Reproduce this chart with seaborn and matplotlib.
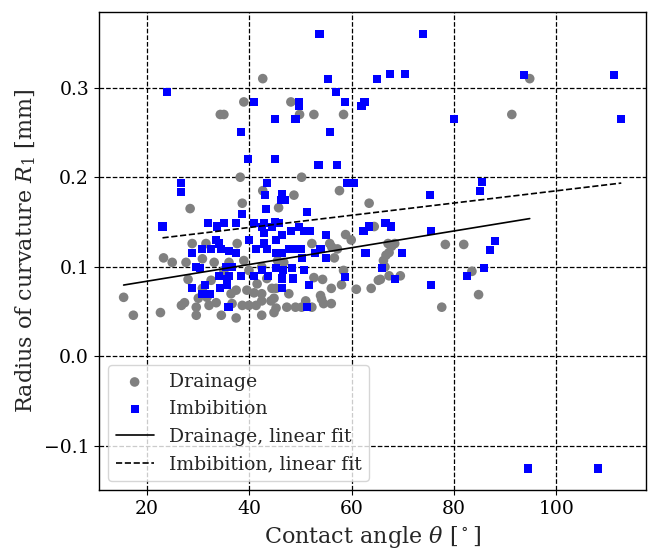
import numpy as np
import pandas as pd
import matplotlib
matplotlib.use("Agg")
import matplotlib.pyplot as plt
import seaborn as sns

# Drainage data (contact angle [deg], radius of curvature [mm])
drain_theta = [42.6, 38.9, 34.3, 35.0, 48.1, 49.8, 52.6, 58.4, 94.8, 91.3,
               38.2, 50.2, 28.4, 38.6, 42.6, 45.7, 48.7, 57.6, 63.4, 64.4,
               78.3, 81.9, 83.5, 84.8, 77.6,
               67.1, 67.8, 68.4, 67.3, 66.7, 66.2, 66.5, 67.3, 69.5, 65.6, 63.8, 65.2,
               58.8, 59.9, 52.2, 55.7, 56.1, 57.2, 56.6, 58.4, 52.6, 54.3, 58.0, 56.0,
               60.9, 53.9, 54.1, 56.0, 51.0, 45.5, 47.3, 49.0, 50.2, 52.2, 54.5,
               44.8, 44.8, 45.2, 47.7,
               37.6, 42.4, 37.4, 39.5, 40.9, 42.4, 44.4, 38.6, 39.9, 41.3, 42.4,
               44.2, 45.2, 37.4, 42.4,
               28.8, 31.5, 23.2, 24.9, 27.6, 36.0, 28.0, 30.8, 36.4, 22.6, 26.7,
               27.3, 29.6, 29.6, 32.1, 33.5, 34.5, 30.0, 31.7, 36.6, 15.4, 17.3,
               30.8, 33.1, 35.0, 32.5, 38.9, 39.9, 41.5, 43.4, 46.7]
drain_r1 = [0.310, 0.284, 0.270, 0.270, 0.284, 0.270, 0.270, 0.270, 0.310, 0.270,
            0.200, 0.200, 0.165, 0.171, 0.185, 0.166, 0.180, 0.185, 0.171, 0.145,
            0.125, 0.125, 0.095, 0.069, 0.055,
            0.126, 0.123, 0.126, 0.116, 0.113, 0.107, 0.100, 0.090, 0.090, 0.086, 0.076, 0.085,
            0.136, 0.130, 0.126, 0.126, 0.122, 0.120, 0.110, 0.096, 0.088, 0.086, 0.080, 0.076,
            0.075, 0.068, 0.064, 0.059, 0.062, 0.107, 0.055, 0.055, 0.055, 0.055, 0.059,
            0.065, 0.049, 0.076, 0.070,
            0.126, 0.100, 0.074, 0.074, 0.071, 0.070, 0.076, 0.057, 0.057, 0.057, 0.062,
            0.062, 0.054, 0.043, 0.046,
            0.126, 0.126, 0.110, 0.105, 0.105, 0.105, 0.086, 0.076, 0.070, 0.049, 0.057,
            0.060, 0.055, 0.046, 0.057, 0.060, 0.046, 0.065, 0.066, 0.059, 0.066, 0.046,
            0.109, 0.105, 0.096, 0.085, 0.107, 0.096, 0.081, 0.087, 0.105]

# Imbibition data
imb_theta = [53.7, 73.9, 23.8, 40.9, 55.3, 65.0, 67.5, 70.4, 57.0, 58.6,
             49.6, 49.6, 62.5, 61.9, 45.0, 49.0, 80.0, 55.7, 38.4, 39.7,
             45.0, 53.5, 57.2, 93.6, 111.3, 112.7, 94.4, 108.2,
             85.4, 85.0, 88.0, 87.0, 85.8, 82.5, 75.3, 75.5, 75.5,
             69.9, 68.5, 66.0, 66.6, 67.7, 62.3, 63.3, 62.7, 58.6, 59.0, 60.5,
             51.2, 54.9, 53.9, 52.9, 54.9, 50.0, 48.1, 49.6, 50.6, 51.8, 50.6,
             51.6, 51.2, 46.3, 46.1, 46.9, 43.0, 43.4, 45.0, 46.3, 45.2, 47.7,
             48.7, 49.8, 45.2, 46.3, 50.2, 45.2, 48.3, 46.5, 46.3, 48.5, 46.3,
             37.4, 40.9, 42.8, 42.4, 42.8, 45.7, 44.4, 38.6, 39.9, 42.8, 41.3,
             36.0, 38.4, 36.0, 40.9, 36.0, 26.7, 26.7, 23.0, 31.9, 33.7, 35.0,
             33.5, 34.1, 28.8, 30.8, 32.5, 34.5, 37.4, 29.6, 30.3, 35.4, 36.6,
             34.1, 35.6, 31.3, 28.8, 34.3, 35.6, 30.8, 32.3, 35.8, 43.2, 43.4,
             43.6, 42.4]
imb_r1 = [0.360, 0.360, 0.295, 0.284, 0.310, 0.310, 0.315, 0.315, 0.295, 0.284,
          0.284, 0.279, 0.284, 0.279, 0.265, 0.265, 0.265, 0.250, 0.250, 0.220,
          0.220, 0.214, 0.214, 0.314, 0.314, 0.265, -0.125, -0.125,
          0.195, 0.185, 0.129, 0.119, 0.099, 0.090, 0.180, 0.140, 0.080,
          0.115, 0.086, 0.099, 0.149, 0.145, 0.140, 0.145, 0.115, 0.089, 0.194, 0.194,
          0.161, 0.136, 0.120, 0.115, 0.110, 0.120, 0.140, 0.144, 0.140, 0.140, 0.096,
          0.080, 0.055, 0.181, 0.175, 0.175, 0.180, 0.194, 0.150, 0.136, 0.130, 0.120,
          0.120, 0.120, 0.115, 0.115, 0.110, 0.099, 0.099, 0.096, 0.087, 0.087, 0.076,
          0.149, 0.149, 0.149, 0.144, 0.138, 0.149, 0.144, 0.159, 0.130, 0.126, 0.120,
          0.118, 0.090, 0.090, 0.090, 0.055, 0.194, 0.184, 0.145, 0.149, 0.145, 0.149,
          0.130, 0.126, 0.115, 0.120, 0.120, 0.120, 0.115, 0.100, 0.099, 0.100, 0.100,
          0.090, 0.086, 0.080, 0.076, 0.076, 0.080, 0.070, 0.070, 0.055, 0.165, 0.120,
          0.090, 0.096]

labels = ["Drainage", "Imbibition", "Drainage, linear fit", "Imbibition, linear fit"]

sns.set_style("ticks")
plt.rcParams["font.family"] = ["DejaVu Serif"]
plt.rcParams["mathtext.fontset"] = "dejavuserif"
plt.rcParams["axes.edgecolor"] = "black"
plt.rcParams["xtick.color"] = "black"
plt.rcParams["ytick.color"] = "black"

fig = plt.figure(figsize=(6.54, 5.49), dpi=100)
ax = fig.add_axes([0.151, 0.107, 0.837, 0.871])

dd = pd.DataFrame({"theta": drain_theta, "r1": drain_r1})
di = pd.DataFrame({"theta": imb_theta, "r1": imb_r1})

sns.scatterplot(data=dd, x="theta", y="r1", ax=ax, color="gray", marker="o",
                s=48, edgecolor="none", label=labels[0], zorder=3)
sns.scatterplot(data=di, x="theta", y="r1", ax=ax, color="blue", marker="s",
                s=34, edgecolor="none", label=labels[1], zorder=3)

def fit_frame(df):
    k, b = np.polyfit(df["theta"], df["r1"], 1)
    xs = np.array([df["theta"].min(), df["theta"].max()])
    return pd.DataFrame({"theta": xs, "r1": k * xs + b})

fd = fit_frame(dd)
fi = fit_frame(di)
ax.plot(fd["theta"], fd["r1"], color="black", lw=1.2, ls="-", label=labels[2], zorder=4)
ax.plot(fi["theta"], fi["r1"], color="black", lw=1.2, ls="--", label=labels[3], zorder=4)

ax.grid(True, linestyle="--", color="black", linewidth=0.9, zorder=0)
ax.set_axisbelow(True)
ax.set_xticks([20, 40, 60, 80, 100])
ax.set_yticks([-0.1, 0.0, 0.1, 0.2, 0.3])
ax.tick_params(labelsize=13.5, direction="out", length=3.5, width=0.8)
ax.set_xlabel(r"Contact angle $\theta$ [$^\circ$]", fontsize=16)
ax.set_ylabel(r"Radius of curvature $R_1$ [mm]", fontsize=16)
for sp in ax.spines.values():
    sp.set_visible(True)
    sp.set_color("black")
    sp.set_linewidth(1.0)

ax.legend(loc="lower left", fontsize=13.6)

fig.savefig("out.png", dpi=100)
